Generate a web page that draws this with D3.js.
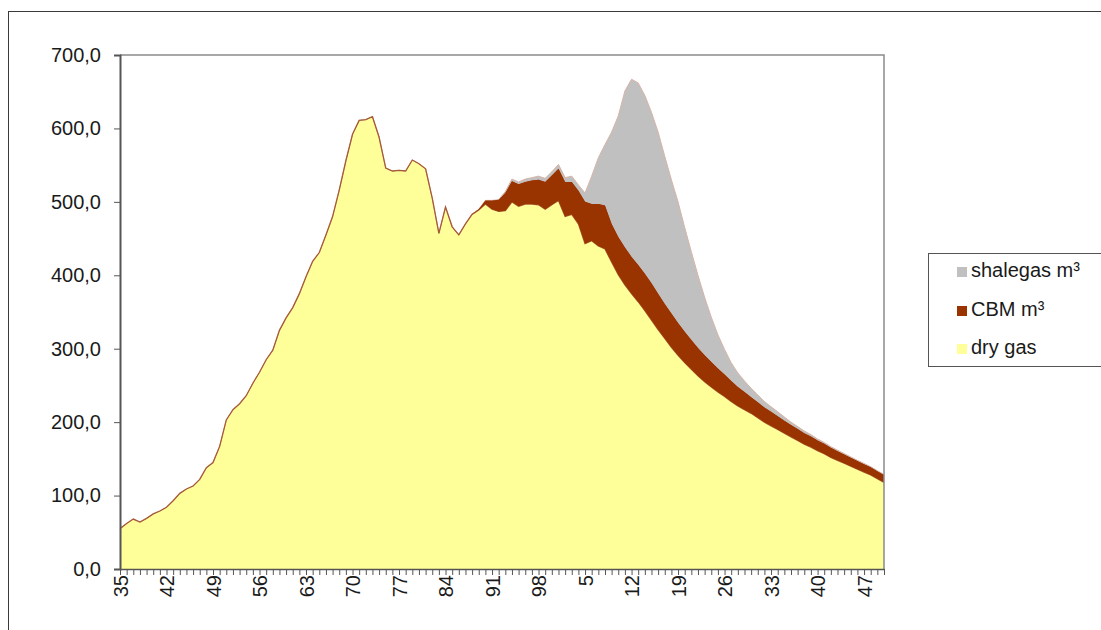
<!DOCTYPE html>
<html>
<head>
<meta charset="utf-8">
<script src="https://cdn.jsdelivr.net/npm/d3@7"></script>
<style>
  html, body { margin: 0; padding: 0; background: #fff; }
  svg { display: block; font-family: "Liberation Sans", Arial, sans-serif; }
</style>
</head>
<body>
<svg id="chart" width="1101" height="630"></svg>
<script>
// ---------- DATA ----------
const years = d3.range(1935, 2051); // 1935 .. 2050

const dryGas = [
  55, 62, 68, 64, 69, 75, 79, 84, 93, 103,          // 1935-1944
  109, 113, 122, 138, 145, 167, 203, 217, 225, 236, // 1945-1954
  253, 268, 285, 298, 325, 342, 356, 375, 398, 419, // 1955-1964
  431, 455, 480, 516, 556, 592, 611, 612, 616, 588, // 1965-1974
  546, 542, 543, 542, 557, 552, 545, 505, 457, 493, // 1975-1984
  466, 455, 470, 483, 489, 497, 490, 487, 488, 500, // 1985-1994
  494, 497, 497, 496, 490, 496, 502, 480, 483, 470, // 1995-2004
  443, 447, 440, 436, 418, 401, 387, 375, 364, 352, // 2005-2014
  339, 326, 314, 302, 291, 281, 272, 263, 255, 248, // 2015-2024
  241, 235, 228, 222, 217, 212, 206, 200, 195, 190, // 2025-2034
  185, 180, 175, 170, 166, 161, 157, 152, 148, 144, // 2035-2044
  140, 136, 132, 128, 123, 118                      // 2045-2050
];

const cbm = [
  0, 0, 0, 0, 0, 0, 0, 0, 0, 0,                     // 1935-1944
  0, 0, 0, 0, 0, 0, 0, 0, 0, 0,                     // 1945-1954
  0, 0, 0, 0, 0, 0, 0, 0, 0, 0,                     // 1955-1964
  0, 0, 0, 0, 0, 0, 0, 0, 0, 0,                     // 1965-1974
  0, 0, 0, 0, 0, 0, 0, 0, 0, 0,                     // 1975-1984
  0, 0, 0, 0, 1, 5, 12, 16, 24, 28,                 // 1985-1994
  30, 30, 32, 34, 37, 40, 43, 47, 44, 45,           // 1995-2004
  57, 50, 57, 59, 52, 51, 51, 50, 50, 50,           // 2005-2014
  50, 49, 47, 46, 44, 42, 40, 38, 36, 34,           // 2015-2024
  32, 30, 28, 26, 24, 22, 21, 20, 19, 18,           // 2025-2034
  17, 16, 15.5, 15, 14.5, 14, 13.5, 13, 12.5, 12,   // 2035-2044
  11.5, 11, 10.8, 10.5, 10.2, 10                    // 2045-2050
];

const shaleGas = [
  0, 0, 0, 0, 0, 0, 0, 0, 0, 0,                     // 1935-1944
  0, 0, 0, 0, 0, 0, 0, 0, 0, 0,                     // 1945-1954
  0, 0, 0, 0, 0, 0, 0, 0, 0, 0,                     // 1955-1964
  0, 0, 0, 0, 0, 0, 0, 0, 0, 0,                     // 1965-1974
  0, 0, 0, 0, 0, 0, 0, 0, 0, 0,                     // 1975-1984
  0, 0, 0, 0, 0, 0, 0, 0, 2, 3,                     // 1985-1994
  3, 4, 4, 5, 5, 5, 6, 6, 8, 8,                     // 1995-2004
  12, 38, 63, 83, 125, 165, 213, 242, 248, 243,     // 2005-2014
  233, 220, 201, 182, 165, 142, 120, 99, 79, 61,    // 2015-2024
  46, 34, 25, 19, 15, 12, 10, 8, 7, 6,              // 2025-2034
  5, 4, 3.5, 3, 2.5, 2, 1.8, 1.6, 1.4, 1.2,         // 2035-2044
  1.1, 1, 0.9, 0.8, 0.7, 0.6                        // 2045-2050
];

const seriesKeys = ["dry", "cbm", "shale"];
const legendLabels = ["shalegas m³", "CBM m³", "dry gas"];
const legendKeys = ["shale", "cbm", "dry"];
const yTicks = [0, 100, 200, 300, 400, 500, 600, 700];
const labelYears = d3.range(1935, 2051, 7);

// ---------- STYLE ----------
const colors = { dry: "#ffff99", cbm: "#993300", shale: "#c0c0c0" };

// ---------- LAYOUT ----------
const svg = d3.select("#chart");
const plot = { left: 120, right: 884, top: 55, bottom: 569 };

// outer chart border
svg.append("rect")
  .attr("x", 8.5).attr("y", 11.5)
  .attr("width", 1110).attr("height", 640)
  .attr("fill", "none").attr("stroke", "#3a3a3a").attr("stroke-width", 1);

const x = d3.scaleLinear().domain([1935, 2050]).range([plot.left, plot.right]);
const y = d3.scaleLinear().domain([0, 700]).range([plot.bottom, plot.top]);

const table = years.map((yr, i) => ({ year: yr, dry: dryGas[i], cbm: cbm[i], shale: shaleGas[i] }));
const stacked = d3.stack().keys(seriesKeys)(table);

const area = d3.area()
  .x(d => x(d.data.year))
  .y0(d => y(d[0]))
  .y1(d => y(d[1]));

// draw from top layer down so the dry-gas outline shows on top where uncovered
const layers = svg.append("g");
stacked.slice().reverse().forEach(s => {
  layers.append("path")
    .datum(s)
    .attr("fill", colors[s.key])
    .attr("d", area);
});

// thin edge lines like the original
const topLine = d3.line()
  .x(d => x(d.data.year))
  .y(d => y(d[1]));
layers.append("path")
  .datum(stacked[2])
  .attr("fill", "none")
  .attr("stroke", "#d8b4a8")
  .attr("stroke-width", 1)
  .attr("d", topLine);
layers.append("path")
  .datum(stacked[0])
  .attr("fill", "none")
  .attr("stroke", "#a65a38")
  .attr("stroke-width", 1.3)
  .attr("d", topLine);
// re-draw cbm over dry outline where it exists
layers.append("path")
  .datum(stacked[1].map(d => d))
  .attr("fill", colors.cbm)
  .attr("d", area.defined(d => d[1] - d[0] > 0 || true));

// plot border (top + right)
svg.append("path")
  .attr("d", `M${plot.left},${plot.top}H${plot.right}V${plot.bottom}`)
  .attr("fill", "none").attr("stroke", "#8a8a8a").attr("stroke-width", 1.5);

// y axis
const fmt = d3.formatLocale({ decimal: ",", thousands: ".", grouping: [3], currency: ["", ""] }).format(".1f");
const yAxis = svg.append("g")
  .attr("transform", `translate(${plot.left},0)`)
  .call(d3.axisLeft(y).tickValues(yTicks).tickSize(6).tickPadding(13).tickFormat(fmt));
yAxis.select(".domain").attr("stroke", "#555").attr("stroke-width", 2);
yAxis.selectAll(".tick line").attr("stroke", "#555");
yAxis.selectAll("text")
  .attr("font-size", 20)
  .attr("font-family", "'Liberation Sans', Arial, sans-serif")
  .attr("fill", "#1a1a1a");

// x axis
const xAxis = svg.append("g")
  .attr("transform", `translate(0,${plot.bottom})`)
  .call(d3.axisBottom(x).tickValues(years).tickSize(6).tickSizeOuter(0)
    .tickFormat(d => labelYears.includes(d) ? String(d % 100) : ""));
xAxis.select(".domain").attr("stroke", "#555").attr("stroke-width", 1.5);
xAxis.selectAll(".tick line").attr("stroke", "#555");
xAxis.selectAll("text")
  .attr("font-size", 20)
  .attr("font-family", "'Liberation Sans', Arial, sans-serif")
  .attr("fill", "#1a1a1a")
  .attr("transform", "rotate(-90)")
  .attr("text-anchor", "end")
  .attr("x", -6)
  .attr("y", 0)
  .attr("dy", "0.36em");

// legend
const legend = svg.append("g");
legend.append("rect")
  .attr("x", 928.5).attr("y", 253.5)
  .attr("width", 200).attr("height", 113)
  .attr("fill", "#fff").attr("stroke", "#555").attr("stroke-width", 1);
const baselines = [277, 316, 354];
legendKeys.forEach((k, i) => {
  legend.append("rect")
    .attr("x", 957).attr("y", baselines[i] - 10)
    .attr("width", 10).attr("height", 10)
    .attr("fill", colors[k]);
  legend.append("text")
    .attr("x", 971).attr("y", baselines[i])
    .attr("font-size", 20)
    .attr("fill", "#1a1a1a")
    .text(legendLabels[i]);
});
</script>
</body>
</html>
